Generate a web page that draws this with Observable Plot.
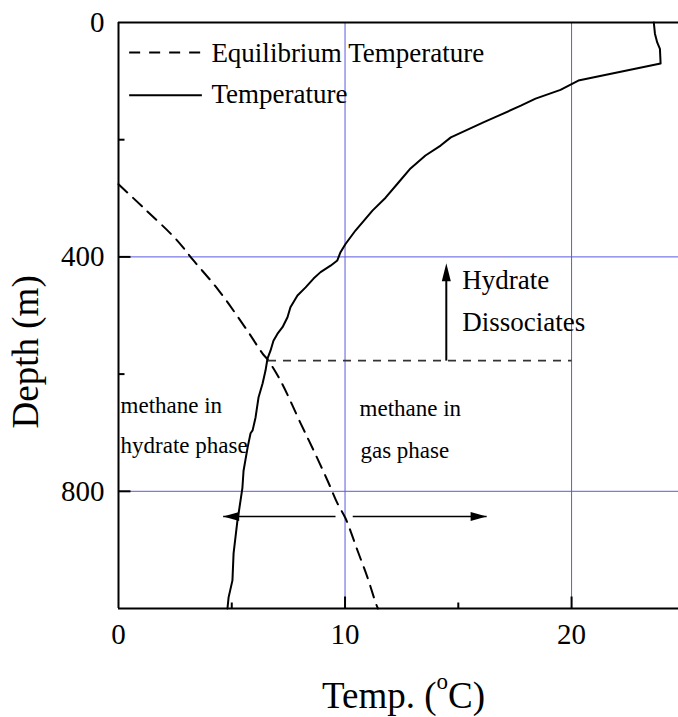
<!DOCTYPE html>
<html>
<head>
<meta charset="utf-8">
<script src="https://cdn.jsdelivr.net/npm/d3@7"></script>
<script src="https://cdn.jsdelivr.net/npm/@observablehq/plot@0.6"></script>
<style>
  html, body { margin: 0; padding: 0; background: #fff; }
</style>
</head>
<body>
<div id="chart"></div>
<script>
// Measured water/sediment temperature (°C) against depth (m)
const tempC = [23.63, 23.68, 23.78, 23.90, 23.93, 20.30, 20.00, 19.51, 18.41, 17.76,
  16.78, 16.13, 14.67, 14.22, 13.55, 12.89, 12.36, 11.79, 11.21, 10.77,
  10.46, 10.02, 9.80, 9.66, 9.36, 8.92, 8.61, 8.26, 7.90, 7.59,
  7.46, 7.24, 7.02, 6.84, 6.71, 6.58, 6.49, 6.36, 6.18, 6.05,
  5.92, 5.83, 5.70, 5.52, 5.47, 5.34, 5.25, 5.08, 5.03, 4.86, 4.81];
const tempDepth = [0, 19, 34, 45, 70, 99, 105, 115, 130, 142,
  159, 170, 196, 210, 227, 249, 273, 299, 321, 341,
  355, 378, 392, 406, 415, 426, 437, 452, 466, 486,
  503, 520, 531, 543, 560, 573, 594, 616, 640, 674,
  696, 701, 725, 765, 794, 828, 850, 906, 952, 981, 1000];

// Methane hydrate equilibrium temperature (°C) against depth (m)
const eqC = [0, 1.10, 2.52, 3.31, 4.42, 5.69, 6.36, 6.58, 7.15, 8.04,
  8.61, 9.23, 9.67, 10.02, 10.55, 10.99, 11.35, 11.45];
const eqDepth = [276, 316, 369, 406, 457, 526, 565, 575, 611, 684,
  730, 782, 821, 846, 901, 947, 990, 1000];

// Axis ticks and grid
const xTickLabels = [0, 10, 20];
const xMinorTicks = [5, 15];
const yTickLabels = [0, 400, 800];
const yMinorTicks = [200, 600];
const gridX = [10, 20];
const gridY = [400, 800];

// Phase boundary: where the profile meets the equilibrium curve
const boundaryDepth = 577;
const boundaryFrom = 6.6;
const boundaryTo = 20;

// "Hydrate Dissociates" arrow (temperature, depth from → to)
const riseTemp = 14.47;
const riseFrom = 577;
const riseTo = 411;

// Two-way arrow at 843 m: inner ends and tips
const spreadDepth = 843;
const spreadLeft = [9.58, 4.62];
const spreadRight = [10.34, 16.25];

// Text annotations
const phaseNotes = [
  {text: "methane in", t: 0.09, d: 654},
  {text: "hydrate phase", t: 0.09, d: 722},
  {text: "methane in", t: 10.64, d: 659},
  {text: "gas phase", t: 10.68, d: 730}
];
const riseNotes = [
  {text: "Hydrate", t: 15.17, d: 440},
  {text: "Dissociates", t: 15.17, d: 512}
];

// Legend entries
const legendLabels = ["Equilibrium Temperature", "Temperature"];
const legendDepths = [51, 124];
const legendTextDepths = [52, 122];
const legendSample = [0.47, 3.68];
const legendTextT = 4.1;

// Axis titles
const xTitle = "Temp. (oC)";
const yTitle = "Depth (m)";
const yTitleDepth = 562;

const gridColor = "#5a5ae0";
const serif = '"Liberation Serif", "Times New Roman", serif';

// Custom glyphs for pixel-length ticks and filled arrowheads
const hTick = len => ({draw(c) { c.moveTo(0, 0); c.lineTo(len, 0); }});
const vTick = len => ({draw(c) { c.moveTo(0, 0); c.lineTo(0, -len); }});
const head = (dx, dy, L, W) => ({draw(c) {
  const px = -dy, py = dx;
  c.moveTo(0, 0);
  c.lineTo(-dx * L + px * W / 2, -dy * L + py * W / 2);
  c.lineTo(-dx * L - px * W / 2, -dy * L - py * W / 2);
  c.closePath();
}});

const tempRows = tempC.map((t, i) => ({t, d: tempDepth[i]}));
const eqRows = eqC.map((t, i) => ({t, d: eqDepth[i]}));

const plot = Plot.plot({
  width: 678,
  height: 717,
  marginLeft: 118,
  marginRight: 0,
  marginTop: 22,
  marginBottom: 109,
  style: {fontFamily: serif, background: "white", color: "black", overflow: "visible"},
  x: {domain: [0, 24.72], axis: null},
  y: {domain: [0, 1000], reverse: true, axis: null},
  marks: [
    // grid
    Plot.ruleX(gridX, {stroke: gridColor, strokeWidth: 1}),
    Plot.ruleY(gridY, {stroke: gridColor, strokeWidth: 1}),
    // frame: left, top and bottom
    Plot.ruleX([0], {stroke: "black", strokeWidth: 2}),
    Plot.ruleY([0, 1000], {stroke: "black", strokeWidth: 2}),
    // inward ticks
    Plot.dot(yTickLabels.slice(1), {x: () => 0, y: d => d, symbol: hTick(12), stroke: "black", fill: "none", strokeWidth: 2}),
    Plot.dot(yMinorTicks, {x: () => 0, y: d => d, symbol: hTick(6), stroke: "black", fill: "none", strokeWidth: 2}),
    Plot.dot(xTickLabels.slice(1), {x: d => d, y: () => 1000, symbol: vTick(12), stroke: "black", fill: "none", strokeWidth: 2}),
    Plot.dot(xMinorTicks, {x: d => d, y: () => 1000, symbol: vTick(6), stroke: "black", fill: "none", strokeWidth: 2}),
    // tick labels
    Plot.text(xTickLabels, {x: d => d, text: d => String(d), frameAnchor: "bottom", dy: 35, fontSize: 29}),
    Plot.text(yTickLabels, {y: d => d, text: d => String(d), frameAnchor: "left", textAnchor: "end", dx: -14, fontSize: 29}),
    // axis titles
    Plot.text([xTitle], {text: d => d, frameAnchor: "bottom", lineAnchor: "bottom", dx: 5, dy: 99, fontSize: 37}),
    Plot.text([yTitle], {x: () => 0, y: () => yTitleDepth, text: d => d, lineAnchor: "bottom", rotate: -90, dx: -81, fontSize: 37}),
    // equilibrium curve and measured profile
    Plot.line(eqRows, {x: "t", y: "d", curve: "catmull-rom", stroke: "black", strokeWidth: 2, strokeDasharray: "12,8"}),
    Plot.line(tempRows, {x: "t", y: "d", stroke: "black", strokeWidth: 2}),
    // phase boundary
    Plot.link([0], {x1: () => boundaryFrom, x2: () => boundaryTo, y1: () => boundaryDepth, y2: () => boundaryDepth,
      stroke: "#333", strokeWidth: 1.6, strokeDasharray: "8,7"}),
    // dissociation arrow
    Plot.link([0], {x1: () => riseTemp, x2: () => riseTemp, y1: () => riseFrom, y2: () => riseTo + 20, stroke: "black", strokeWidth: 2}),
    Plot.dot([0], {x: () => riseTemp, y: () => riseTo, symbol: head(0, -1, 18, 9), fill: "black", stroke: "none"}),
    // two-way arrow
    Plot.link([spreadLeft, spreadRight], {x1: d => d[0], x2: d => d[1], y1: () => spreadDepth, y2: () => spreadDepth, stroke: "black", strokeWidth: 1.6}),
    Plot.dot([spreadLeft[1]], {x: d => d, y: () => spreadDepth, symbol: head(-1, 0, 16, 9), fill: "black", stroke: "none"}),
    Plot.dot([spreadRight[1]], {x: d => d, y: () => spreadDepth, symbol: head(1, 0, 16, 9), fill: "black", stroke: "none"}),
    // annotations
    Plot.text(phaseNotes, {x: "t", y: "d", text: "text", textAnchor: "start", fontSize: 23}),
    Plot.text(riseNotes, {x: "t", y: "d", text: "text", textAnchor: "start", fontSize: 27}),
    // legend
    Plot.link([0], {x1: () => legendSample[0], x2: () => legendSample[1], y1: () => legendDepths[0], y2: () => legendDepths[0],
      stroke: "black", strokeWidth: 2, strokeDasharray: "11,9"}),
    Plot.link([0], {x1: () => legendSample[0], x2: () => legendSample[1], y1: () => legendDepths[1], y2: () => legendDepths[1],
      stroke: "black", strokeWidth: 2}),
    Plot.text(legendLabels, {x: () => legendTextT, y: (d, i) => legendTextDepths[i], text: d => d, textAnchor: "start", fontSize: 27})
  ]
});

// Superscript "o" in the x-axis title
d3.select(plot).selectAll("text").each(function() {
  if (this.textContent === xTitle) {
    const t = d3.select(this);
    t.text(null);
    t.append("tspan").text("Temp. (");
    t.append("tspan").attr("font-size", 23).attr("dy", -19).text("o");
    t.append("tspan").attr("dy", 19).text("C)");
  }
});

document.getElementById("chart").appendChild(plot);
</script>
</body>
</html>
